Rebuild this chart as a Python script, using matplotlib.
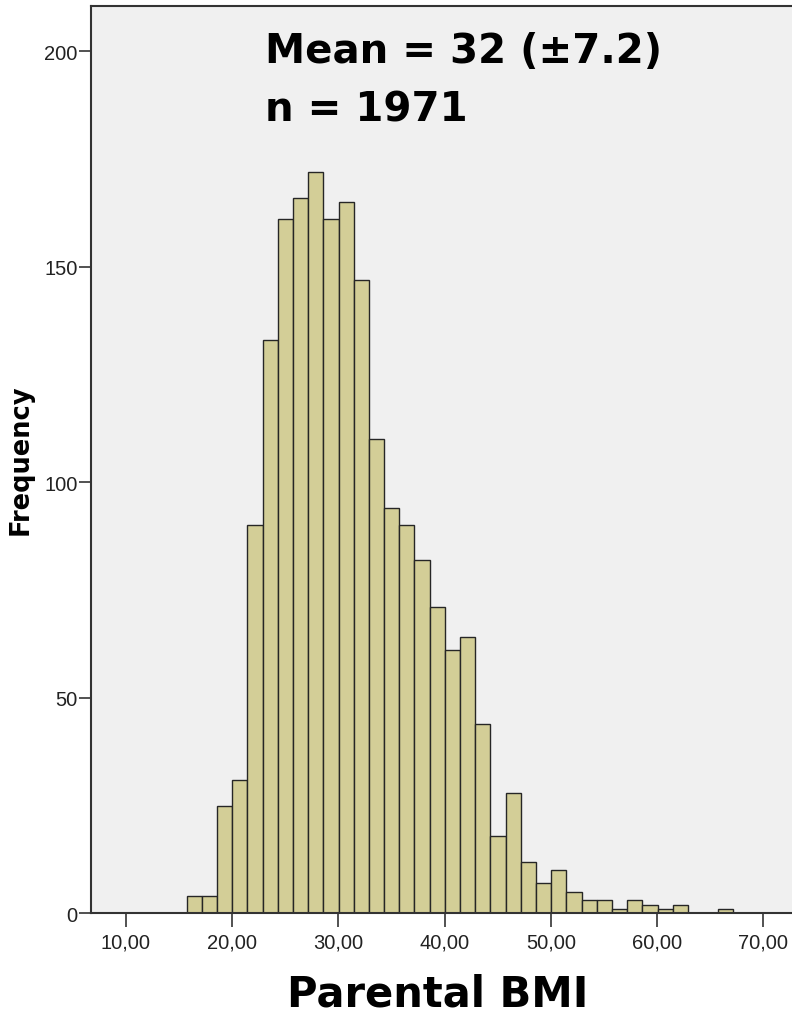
import matplotlib
matplotlib.use("Agg")
import matplotlib.pyplot as plt
from matplotlib import font_manager

# ---- data ----
bin_start = 15.71          # left edge of first bin (BMI)
bin_width = 1.43           # width of each bin (BMI)
counts = [4, 4, 25, 31, 90, 133, 161, 166, 172, 161, 165, 147,
          110, 94, 90, 82, 71, 61, 64, 44,
          18, 28, 12, 7, 10, 5, 3, 3, 1, 3, 2, 1, 2, 0, 0, 1]
x_ticks = [10, 20, 30, 40, 50, 60, 70]
x_tick_labels = ["10,00", "20,00", "30,00", "40,00", "50,00", "60,00", "70,00"]
y_ticks = [0, 50, 100, 150, 200]
y_tick_labels = ["0", "50", "100", "150", "200"]
annotation_lines = ["Mean = 32 (\u00b17.2)", "n = 1971"]
x_title = "Parental BMI"
y_title = "Frequency"

# ---- fonts ----
def pick(fams):
    for f in fams:
        try:
            font_manager.findfont(font_manager.FontProperties(family=f), fallback_to_default=False)
            return f
        except Exception:
            pass
    return "DejaVu Sans"

tick_font = pick(["Liberation Sans Narrow", "Liberation Sans", "DejaVu Sans"])
big_font = "DejaVu Sans"

W, H = 792, 1020
fig = plt.figure(figsize=(W / 100, H / 100), dpi=100)
fig.patch.set_facecolor("white")

left_px, top_px, bottom_px = 90.7, 7.3, 914.3
ax = fig.add_axes([left_px / W, 1 - bottom_px / H, 1 - left_px / W, (bottom_px - top_px) / H])
ax.set_facecolor("#F0F0F0")

lefts = [bin_start + i * bin_width for i in range(len(counts))]
ax.bar(lefts, counts, width=bin_width, align="edge", color="#D3CE97",
       edgecolor="#262626", linewidth=1.0, zorder=2)

ax.set_xlim(6.677, 72.70)
ax.set_ylim(0, 210.44)

ax.set_xticks(x_ticks)
ax.set_xticklabels(x_tick_labels)
ax.set_yticks(y_ticks)
ax.set_yticklabels(y_tick_labels)

for lab in ax.get_xticklabels() + ax.get_yticklabels():
    lab.set_fontfamily(tick_font)
    lab.set_fontsize(14.5)
    lab.set_color("#222222")

ax.tick_params(axis="x", direction="out", length=10, width=1.2, color="#333333", pad=4)
ax.tick_params(axis="y", direction="out", length=8.5, width=1.2, color="#333333", pad=0.8)

for side in ["left", "bottom", "top"]:
    ax.spines[side].set_color("#333333")
    ax.spines[side].set_linewidth(1.5)
ax.spines["right"].set_visible(False)
for s in ax.spines.values():
    s.set_zorder(3)

# annotations
fig.text(265 / W, 1 - 63.3 / H, annotation_lines[0], family=big_font, weight="bold",
         fontsize=29, ha="left", va="baseline", color="black")
fig.text(265 / W, 1 - 121.7 / H, annotation_lines[1], family=big_font, weight="bold",
         fontsize=29, ha="left", va="baseline", color="black")

# axis titles
fig.text(438 / W, 1 - 1006.7 / H, x_title, family=big_font, weight="bold",
         fontsize=30, ha="center", va="baseline", color="black")
fig.text(21 / W, 1 - 460 / H, y_title, family=big_font, weight="bold",
         fontsize=18.5, ha="center", va="center", rotation=90, color="black")

fig.savefig("out.png", dpi=100, facecolor="white")
